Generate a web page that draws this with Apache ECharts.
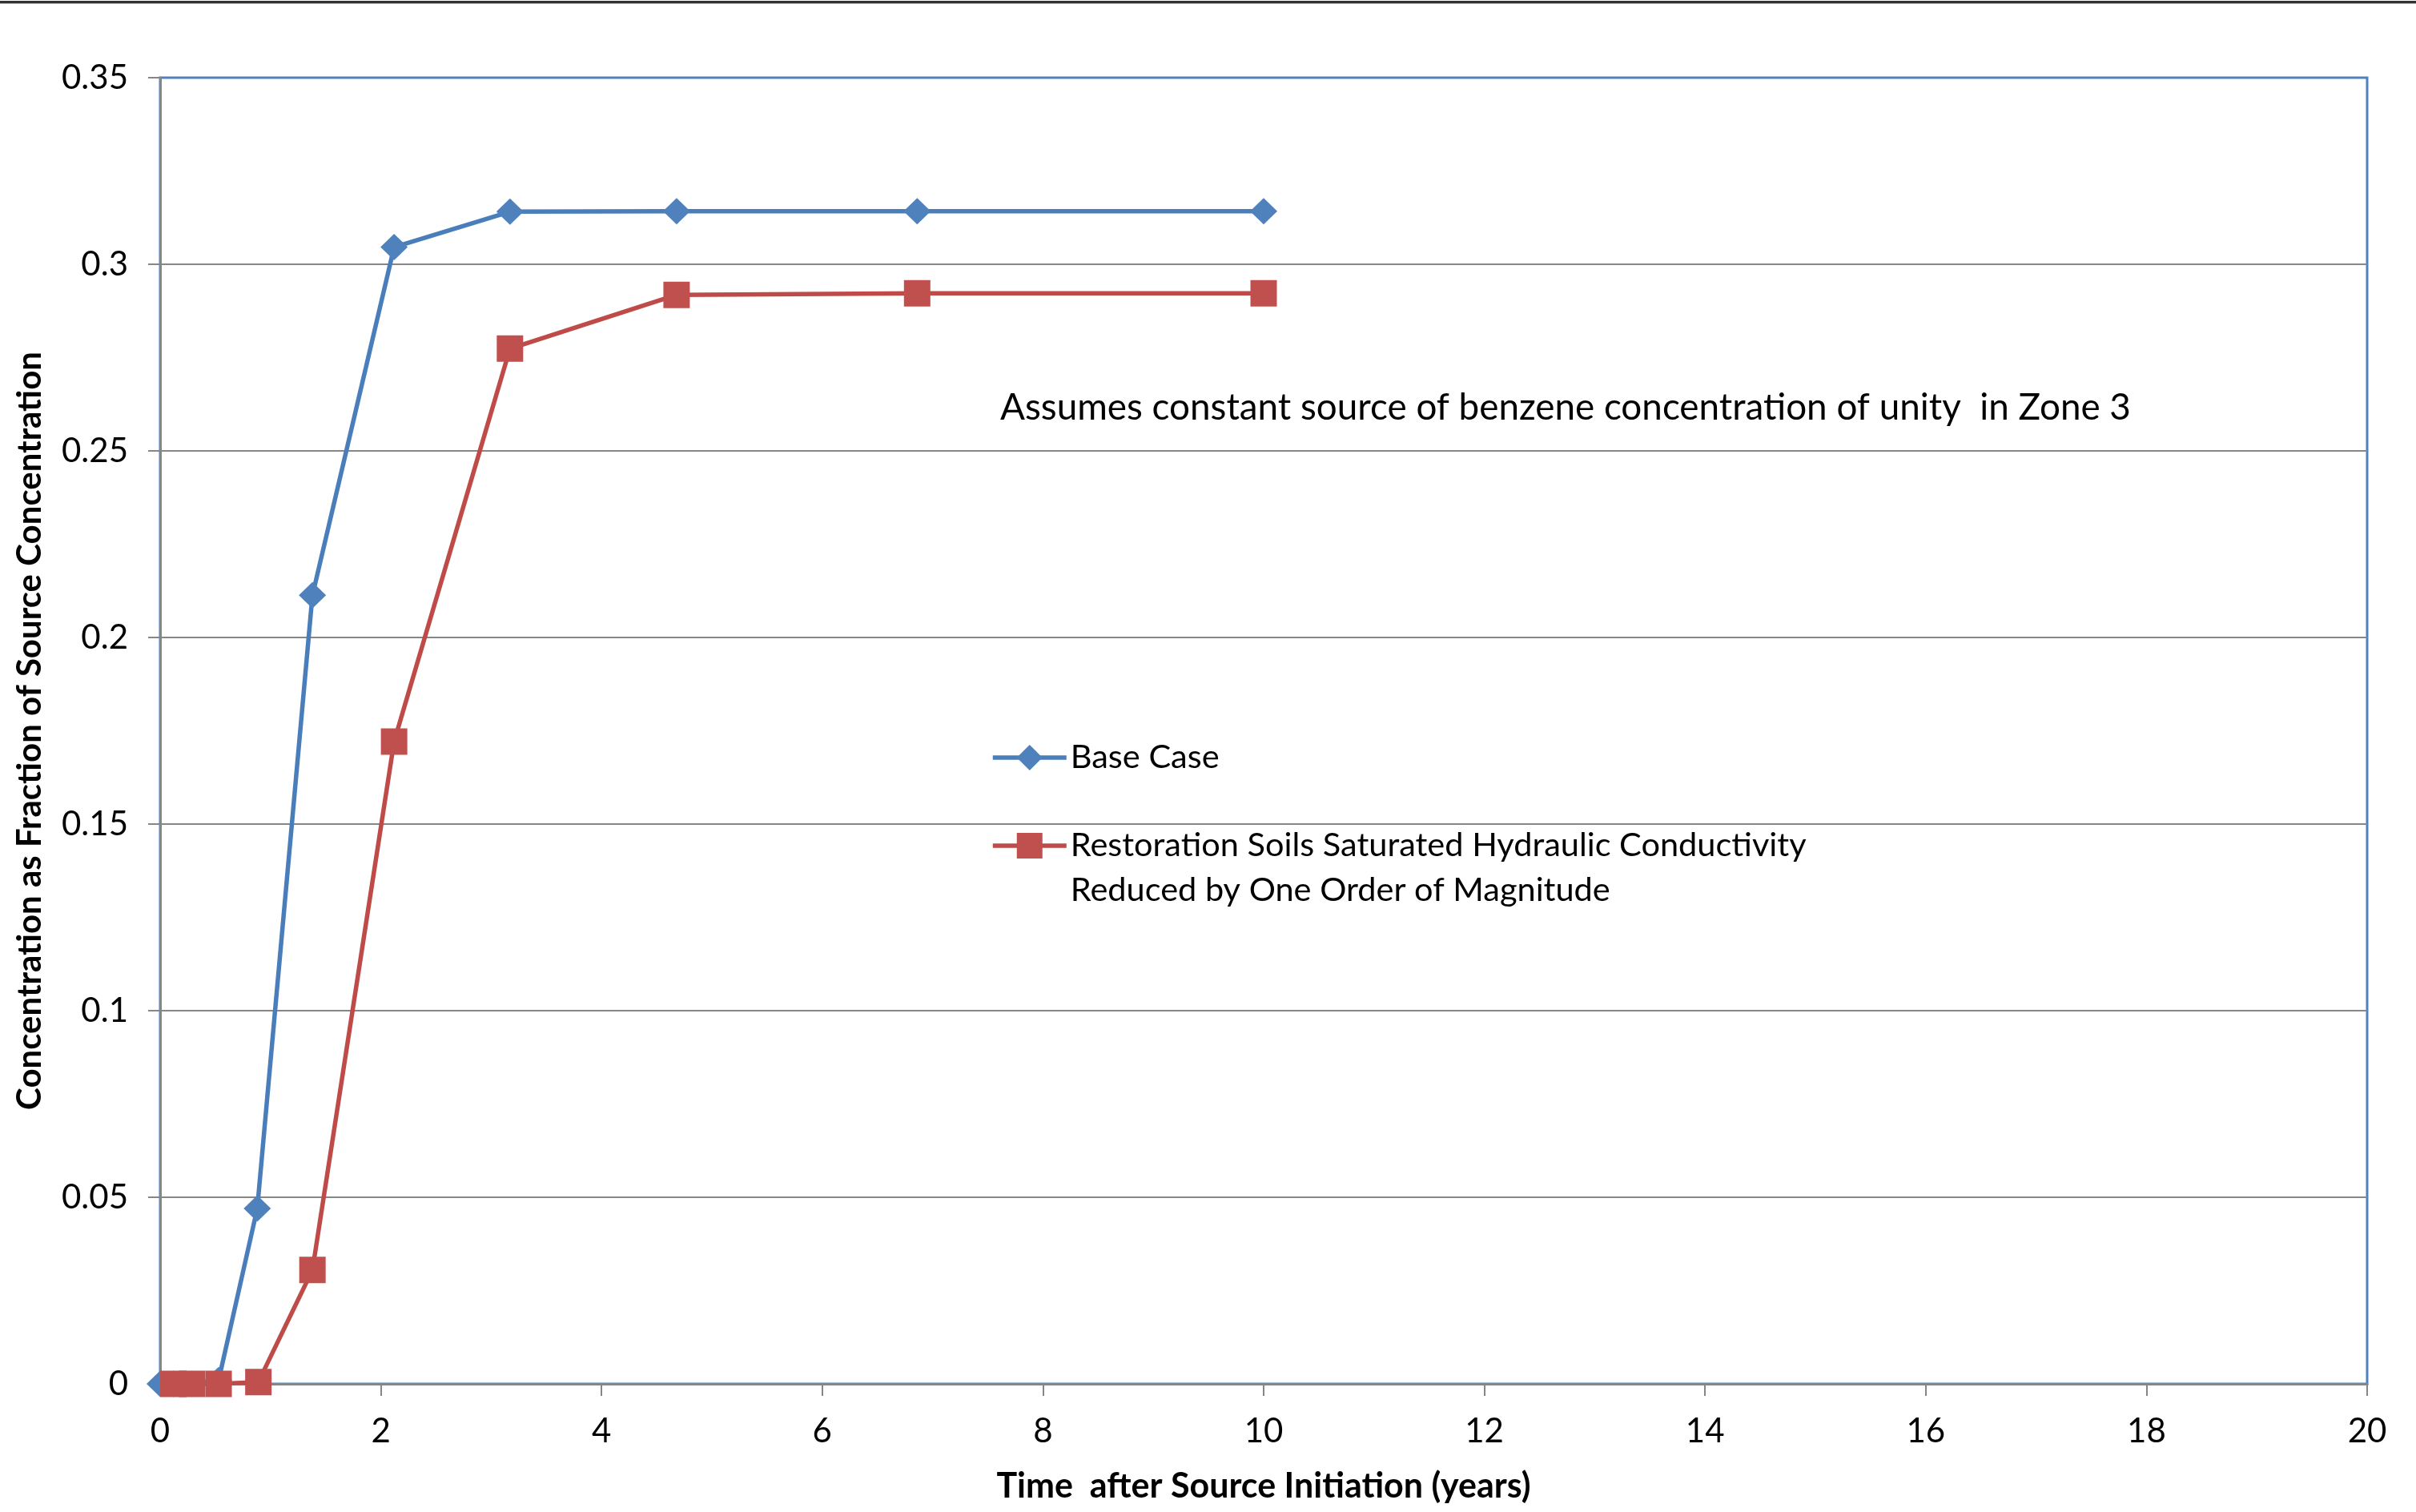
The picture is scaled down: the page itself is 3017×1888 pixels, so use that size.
<!DOCTYPE html>
<html>
<head>
<meta charset="utf-8">
<title>Benzene concentration vs time</title>
<script src="https://cdn.jsdelivr.net/npm/echarts@6/dist/echarts.min.js"></script>
<style>
  html, body { margin: 0; padding: 0; background: #ffffff; }
  #chart { width: 3017px; height: 1888px; }
</style>
</head>
<body>
<div id="chart"></div>
<script>
// Time after source initiation (years) and concentration fraction for each case
const baseTime = [0, 0.12, 0.29, 0.53, 0.88, 1.38, 2.12, 3.17, 4.68, 6.86, 10.0];
const baseConc = [0, 0, 0, 0.001, 0.047, 0.2113, 0.3046, 0.3141, 0.3142, 0.3142, 0.3142];

const reducedTime = [0.12, 0.29, 0.53, 0.89, 1.38, 2.12, 3.17, 4.68, 6.86, 10.0];
const reducedConc = [0, 0, 0, 0.0005, 0.0305, 0.1721, 0.2774, 0.2918, 0.2922, 0.2922];

const baseName = 'Base Case';
const reducedName = 'Restoration Soils Saturated Hydraulic Conductivity';
const reducedNameLine2 = 'Reduced by One Order of Magnitude';
const noteText = 'Assumes constant source of benzene concentration of unity  in Zone 3';
const xTitle = 'Time  after Source Initiation (years)';
const yTitle = 'Concentration as Fraction of Source Concentration';

const FONT = 'Lato, "Open Sans", sans-serif';
const BLUE_LINE = '#4A7EBB';
const BLUE_MARK = '#4F81BD';
const RED_LINE = '#BE4B48';
const RED_MARK = '#C0504D';
const GRID_GREY = '#868686';
const LINE_W = 5.5;

function pairs(xs, ys) { return xs.map((x, i) => [x, ys[i]]); }

const chart = echarts.init(document.getElementById('chart'), null, { renderer: 'canvas' });

chart.setOption({
  animation: false,
  backgroundColor: '#ffffff',
  textStyle: { fontFamily: FONT },
  grid: {
    left: 200, top: 97, right: 61, bottom: 160,
    show: true, borderColor: BLUE_MARK, borderWidth: 3, backgroundColor: 'transparent'
  },
  xAxis: {
    type: 'value', min: 0, max: 20, interval: 2,
    name: xTitle, nameLocation: 'middle', nameGap: 107,
    nameTextStyle: { fontFamily: FONT, fontSize: 43, fontWeight: 'bold', color: '#000' },
    axisLine: { show: true, onZero: false, lineStyle: { color: GRID_GREY, width: 3 } },
    axisTick: { show: true, length: 15, lineStyle: { color: GRID_GREY, width: 2 } },
    axisLabel: { fontFamily: FONT, fontSize: 42, color: '#000', margin: 38 },
    splitLine: { show: false }
  },
  yAxis: {
    type: 'value', min: 0, max: 0.35, interval: 0.05,
    name: yTitle, nameLocation: 'middle', nameGap: 142,
    nameTextStyle: { fontFamily: FONT, fontSize: 42, fontWeight: 'bold', color: '#000' },
    axisLine: { show: true, onZero: false, lineStyle: { color: GRID_GREY, width: 3 } },
    axisTick: { show: true, length: 15, lineStyle: { color: GRID_GREY, width: 2 } },
    axisLabel: { fontFamily: FONT, fontSize: 42, color: '#000', margin: 40 },
    splitLine: { show: true, showMaxLine: false, lineStyle: { color: GRID_GREY, width: 2 } }
  },
  legend: [
    {
      data: [baseName], left: 1237, top: 925, padding: 0,
      itemWidth: 92, itemHeight: 40, selectedMode: false,
      lineStyle: { width: LINE_W },
      textStyle: { fontFamily: FONT, fontSize: 41.5, color: '#000' }
    },
    {
      // a blank first line keeps the marker level with the first text line
      data: [reducedName], left: 1237, top: 972, padding: 0,
      itemWidth: 92, itemHeight: 40, selectedMode: false,
      lineStyle: { width: LINE_W },
      formatter: name => ' \n' + name + '\n' + reducedNameLine2,
      textStyle: { fontFamily: FONT, fontSize: 41.5, color: '#000', lineHeight: 56 }
    }
  ],
  graphic: [
    { type: 'rect', left: 0, top: 1, shape: { width: 3017, height: 3 }, style: { fill: '#333333' } },
    { type: 'rect', left: 0, top: 4, shape: { width: 3017, height: 1 }, style: { fill: '#b0b0b0' } },
    {
      type: 'text', left: 1249, top: 486,
      style: { text: noteText, fontFamily: FONT, fontSize: 45.8, fill: '#000' }
    }
  ],
  series: [
    {
      name: baseName, type: 'line', data: pairs(baseTime, baseConc),
      symbol: 'diamond', symbolSize: [34, 33],
      lineStyle: { color: BLUE_LINE, width: LINE_W },
      itemStyle: { color: BLUE_MARK },
      emphasis: { disabled: true }, silent: true, clip: false
    },
    {
      name: reducedName, type: 'line', data: pairs(reducedTime, reducedConc),
      symbol: 'rect', symbolSize: 33,
      lineStyle: { color: RED_LINE, width: LINE_W },
      itemStyle: { color: RED_MARK },
      emphasis: { disabled: true }, silent: true, clip: false
    }
  ]
});
</script>
</body>
</html>
